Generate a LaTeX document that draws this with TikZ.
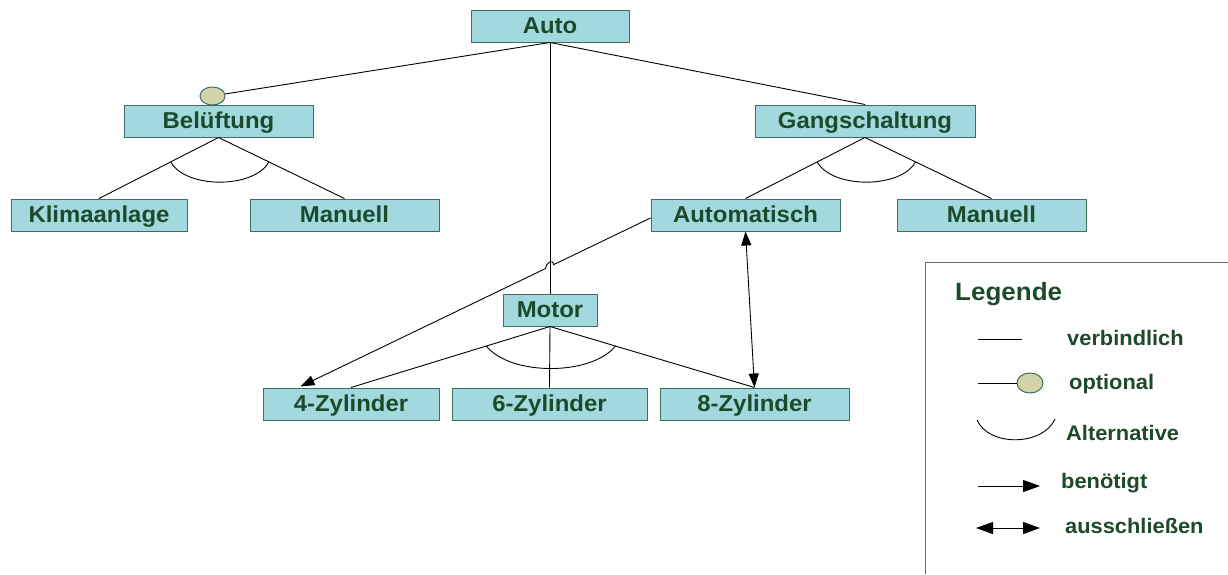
\documentclass[tikz,border=0pt]{standalone}
\usepackage{fontspec}
\setmainfont{Liberation Sans}[FakeStretch=1.04]
\usetikzlibrary{calc,arrows.meta,shapes.geometric}

\definecolor{txtgreen}{HTML}{1D4A2B}
\definecolor{boxfill}{HTML}{A1D9DF}
\definecolor{boxline}{HTML}{3E6E5E}
\definecolor{optfill}{HTML}{D3D3A8}
\definecolor{framegray}{HTML}{6A6A6A}

\tikzset{
  feature/.style={draw=boxline, fill=boxfill, line width=1pt, inner sep=0pt,
    minimum height=32pt, text height=18pt, text depth=3pt,
    text=txtgreen, font=\fontsize{23pt}{27pt}\selectfont\bfseries},
  optmark/.style={ellipse, draw=boxline, fill=optfill, line width=1pt,
    inner sep=0pt, minimum width=25pt, minimum height=18pt},
  link/.style={draw=black, line width=0.9pt},
  altarc/.style={draw=black, line width=0.9pt},
  needs/.style={link, -{Triangle[length=14pt,width=10pt]}},
  excludes/.style={link, {Triangle[length=14pt,width=10pt]}-{Triangle[length=14pt,width=10pt]}},
  legtext/.style={anchor=base west, inner sep=0pt, text=txtgreen,
    font=\fontsize{21pt}{25pt}\selectfont\bfseries},
  legtitle/.style={anchor=base west, inner sep=0pt, text=txtgreen,
    font=\fontsize{25pt}{29pt}\selectfont\bfseries}
}

\begin{document}
\begin{tikzpicture}[x=1pt, y=-1pt]
\useasboundingbox (0,0) rectangle (1228,574);

% feature nodes
\node[feature, minimum width=158pt] (auto)  at (550,26)    {Auto};
\node[feature, minimum width=189pt] (bel)   at (218.5,121) {Belüftung};
\node[feature, minimum width=220pt] (gang)  at (865,121)   {Gangschaltung};
\node[feature, minimum width=176pt] (klima) at (99,215)    {Klimaanlage};
\node[feature, minimum width=189pt] (manl)  at (344.5,215) {Manuell};
\node[feature, minimum width=189pt] (aut)   at (745.5,215) {Automatisch};
\node[feature, minimum width=189pt] (manr)  at (991.5,215) {Manuell};
\node[feature, minimum width=94pt]  (motor) at (550,310)   {Motor};
\node[feature, minimum width=176pt] (zfour) at (351,404)   {4-Zylinder};
\node[feature, minimum width=195pt] (zsix)  at (549.5,404) {6-Zylinder};
\node[feature, minimum width=189pt] (zeight) at (754.5,404) {8-Zylinder};

% optional marker on Belüftung
\node[optmark] (opt) at (212.5,96) {};

% mandatory and optional links
\draw[link] (auto.south) -- (opt);
\draw[link] (auto.south) -- (gang.north);
\draw[link] (auto.south) -- (motor.north);
\draw[link] (bel.south) -- (klima.north);
\draw[link] (bel.south) -- (manl.north);
\draw[link] (gang.south) -- (aut.north);
\draw[link] (gang.south) -- (manr.north);
\draw[link] (motor.south) -- (zfour.north);
\draw[link] (motor.south) -- (zsix.north);
\draw[link] (motor.south) -- (zeight.north);

% alternative groups
\draw[altarc] ($(bel.south)!0.4!(klima.north)$) .. controls +(15,27) and +(-15,27) .. ($(bel.south)!0.4!(manl.north)$);
\draw[altarc] ($(gang.south)!0.4!(aut.north)$) .. controls +(15,27) and +(-15,27) .. ($(gang.south)!0.4!(manr.north)$);
\draw[altarc] ($(motor.south)!0.32!(zfour.north)$) .. controls +(24,30) and +(-24,30) .. ($(motor.south)!0.32!(zeight.north)$);

% requires: Automatisch -> 4-Zylinder, hopping over the Auto-Motor link
\coordinate (reqs) at ($(aut.west)+(0,3)$);
\coordinate (reqt) at ($(zfour.north west)+(38,-1)$);
\draw[needs] (reqs) -- ($(reqs)!0.2771!(reqt)$)
  .. controls +(0,-6) and +(0,-6) .. ($(reqs)!0.3!(reqt)$) -- (reqt);

% excludes: Automatisch <-> 8-Zylinder
\draw[excludes] (aut.south) -- (zeight.north);

% legend frame
\draw[framegray, line width=1pt] (925,574) -- (925,262) -- (1228,262);

\node[legtitle] (legtitle) at (955,300) {Legende};

\coordinate (lva) at (978,339);
\coordinate (lvb) at (1022,339);
\draw[link] (lva) -- (lvb);
\node[legtext] (lv) at (1067,345) {verbindlich};

\node[optmark, minimum width=26pt, minimum height=20pt] (lopt) at (1030,383) {};
\coordinate (loa) at (978,383);
\draw[link] (loa) -- (lopt);
\node[legtext] (lo) at (1069,389) {optional};

\coordinate (laa) at (977,420);
\coordinate (lab) at (1055,419);
\draw[altarc] (laa) .. controls +(12,27) and +(-12,27) .. (lab);
\node[legtext] (la) at (1066,440) {Alternative};

\coordinate (lna) at (978,486);
\coordinate (lnb) at (1040,486);
\draw[link, -{Triangle[length=17pt,width=12pt]}] (lna) -- (lnb);
\node[legtext] (ln) at (1061,488) {benötigt};

\coordinate (lea) at (976,528);
\coordinate (leb) at (1040,528);
\draw[link, {Triangle[length=17pt,width=12pt]}-{Triangle[length=17pt,width=12pt]}] (lea) -- (leb);
\node[legtext] (le) at (1065,533) {ausschließen};
\end{tikzpicture}
\end{document}
